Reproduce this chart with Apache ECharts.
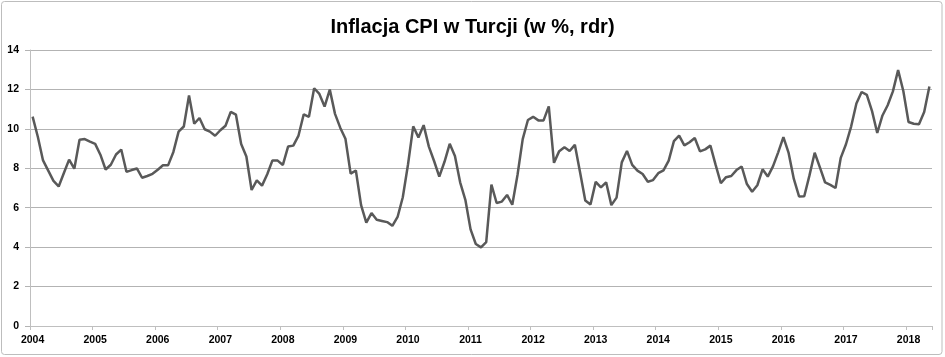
<!DOCTYPE html>
<html>
<head>
<meta charset="utf-8">
<script src="https://cdn.jsdelivr.net/npm/echarts@6/dist/echarts.min.js"></script>
<style>
html,body{margin:0;padding:0;background:#fff;}
#chart{width:945px;height:357px;}
</style>
</head>
<body>
<div id="chart"></div>
<script>
var titleText = 'Inflacja CPI w Turcji (w %, rdr)';
var years = ['2004','2005','2006','2007','2008','2009','2010','2011','2012','2013','2014','2015','2016','2017','2018'];
var cpi2004 = [10.62, 9.60, 8.40, 7.88, 7.36, 7.08, 7.76, 8.44, 7.98, 9.45, 9.48, 9.35];
var cpi2005 = [9.24, 8.69, 7.94, 8.18, 8.70, 8.95, 7.82, 7.91, 7.99, 7.52, 7.61, 7.72];
var cpi2006 = [7.93, 8.15, 8.16, 8.83, 9.86, 10.12, 11.69, 10.26, 10.55, 9.98, 9.86, 9.65];
var cpi2007 = [9.93, 10.16, 10.86, 10.72, 9.23, 8.60, 6.90, 7.39, 7.12, 7.70, 8.40, 8.39];
var cpi2008 = [8.17, 9.10, 9.15, 9.66, 10.74, 10.61, 12.06, 11.77, 11.13, 11.99, 10.76, 10.06];
var cpi2009 = [9.50, 7.73, 7.89, 6.13, 5.24, 5.73, 5.39, 5.33, 5.27, 5.08, 5.53, 6.53];
var cpi2010 = [8.19, 10.13, 9.56, 10.19, 9.10, 8.37, 7.58, 8.33, 9.24, 8.62, 7.29, 6.40];
var cpi2011 = [4.90, 4.16, 3.99, 4.26, 7.17, 6.24, 6.31, 6.65, 6.15, 7.66, 9.48, 10.45];
var cpi2012 = [10.61, 10.43, 10.43, 11.14, 8.28, 8.87, 9.07, 8.88, 9.19, 7.80, 6.37, 6.16];
var cpi2013 = [7.31, 7.03, 7.29, 6.13, 6.51, 8.30, 8.88, 8.17, 7.88, 7.71, 7.32, 7.40];
var cpi2014 = [7.75, 7.89, 8.39, 9.38, 9.66, 9.16, 9.32, 9.54, 8.86, 8.96, 9.15, 8.17];
var cpi2015 = [7.24, 7.55, 7.61, 7.91, 8.09, 7.20, 6.81, 7.14, 7.95, 7.58, 8.10, 8.81];
var cpi2016 = [9.58, 8.78, 7.46, 6.57, 6.58, 7.64, 8.79, 8.05, 7.28, 7.16, 7.00, 8.53];
var cpi2017 = [9.22, 10.13, 11.29, 11.87, 11.72, 10.90, 9.79, 10.68, 11.20, 11.90, 12.98, 11.92];
var cpi2018 = [10.35, 10.26, 10.23, 10.85, 12.15];
var yTicks = [0, 2, 4, 6, 8, 10, 12, 14];

var values = [].concat(cpi2004, cpi2005, cpi2006, cpi2007, cpi2008, cpi2009, cpi2010,
  cpi2011, cpi2012, cpi2013, cpi2014, cpi2015, cpi2016, cpi2017, cpi2018);
var categories = [];
for (var y = 0; y < years.length; y++) {
  for (var m = 1; m <= 12; m++) {
    if (categories.length < values.length) {
      categories.push(years[y] + '-' + (m < 10 ? '0' + m : m));
    }
  }
}

var FONT = '"Liberation Sans", Arial, sans-serif';
var chart = echarts.init(document.getElementById('chart'), null, {renderer: 'canvas'});
chart.setOption({
  backgroundColor: '#ffffff',
  animation: false,
  title: {
    text: titleText,
    left: 'center',
    top: 12,
    textStyle: {fontFamily: FONT, fontSize: 20, fontWeight: 'bold', color: '#000000'}
  },
  graphic: [{
    type: 'rect',
    shape: {x: 1.5, y: 1.5, width: 940.5, height: 353, r: 3},
    style: {fill: 'none', stroke: '#bdbdbd', lineWidth: 1},
    silent: true
  }],
  grid: {left: 30, right: 13, top: 50, bottom: 31, containLabel: false},
  xAxis: {
    type: 'category',
    data: categories,
    boundaryGap: true,
    axisLine: {show: true, lineStyle: {color: '#bfbfbf', width: 1}},
    axisTick: {
      show: true, length: 4, lineStyle: {color: '#bfbfbf'},
      interval: function (i) { return i % 12 === 0; }
    },
    axisLabel: {
      interval: function (i) { return i % 12 === 0; },
      formatter: function (v) { return v.slice(0, 4); },
      fontFamily: FONT, fontSize: 10.5, fontWeight: 'bold', color: '#000000', margin: 9
    },
    splitLine: {show: false}
  },
  yAxis: {
    type: 'value',
    min: yTicks[0],
    max: yTicks[yTicks.length - 1],
    interval: 2,
    axisLine: {show: true, lineStyle: {color: '#bfbfbf', width: 1}},
    axisTick: {show: true, length: 5, lineStyle: {color: '#b3b3b3'}},
    axisLabel: {fontFamily: FONT, fontSize: 10.5, fontWeight: 'bold', color: '#000000', margin: 11},
    splitLine: {show: true, lineStyle: {color: '#b3b3b3', width: 1}}
  },
  series: [{
    type: 'line',
    data: values,
    showSymbol: false,
    symbol: 'none',
    smooth: false,
    lineStyle: {color: '#595959', width: 2.5},
    itemStyle: {color: '#595959'}
  }]
});
</script>
</body>
</html>
